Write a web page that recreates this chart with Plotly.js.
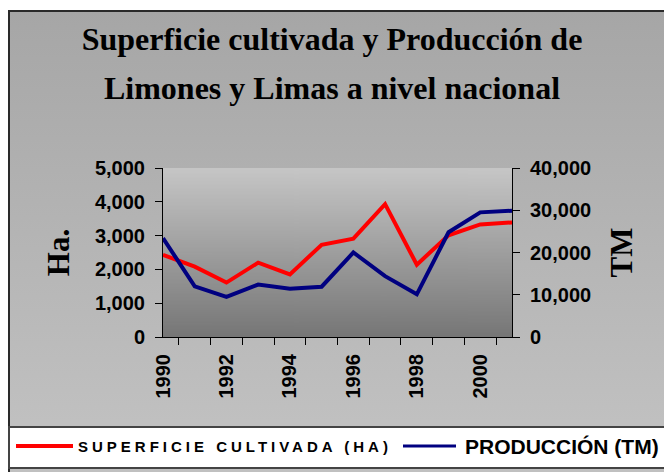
<!DOCTYPE html>
<html>
<head>
<meta charset="utf-8">
<script src="https://cdn.plot.ly/plotly-3.0.1.min.js"></script>
<style>
  html, body { margin: 0; padding: 0; background: #ffffff; }
  #frame {
    position: absolute; left: 8px; top: 10px; width: 680px; height: 480px;
    border-left: 2px solid #2a2a2a; border-top: 2px solid #2a2a2a;
    background: linear-gradient(to bottom, #a6a6a6 0px, #c0c0c0 410px, #c0c0c0 480px);
  }
  #chart { position: absolute; left: 0; top: 0; width: 664px; height: 472px; }
</style>
</head>
<body>
<div id="frame"></div>
<div id="chart"></div>
<script>
// ---- data ----
const years = ['1990','1991','1992','1993','1994','1995','1996','1997','1998','1999','2000','2001'];
const yearLabels = ['1990','','1992','','1994','','1996','','1998','','2000',''];
const superficieHa = [2430, 2080, 1610, 2200, 1850, 2730, 2910, 3930, 2140, 3010, 3330, 3390];
const produccionTM = [23400, 12000, 9500, 12400, 11400, 11900, 20000, 14400, 10100, 24800, 29500, 29900];
const seriesNames = ['SUPERFICIE CULTIVADA (HA)', 'PRODUCCIÓN (TM)'];
const leftTickVals = [0, 1000, 2000, 3000, 4000, 5000];
const rightTickVals = [0, 10000, 20000, 30000, 40000];

// plot-area gradient image
const cv = document.createElement('canvas');
cv.width = 4; cv.height = 256;
const ctx = cv.getContext('2d');
const g = ctx.createLinearGradient(0, 0, 0, 256);
g.addColorStop(0, '#c6c6c6');
g.addColorStop(1, '#767676');
ctx.fillStyle = g;
ctx.fillRect(0, 0, 4, 256);
const gradURL = cv.toDataURL('image/png');

const W = 664, H = 472;
const L = 163, R = 152, T = 168, B = 135;
const pw = W - L - R, ph = H - T - B;
const px = x => (x - L) / pw;
const py = y => (H - B - y) / ph;

const tickFont = {family: 'Liberation Sans, Arial, sans-serif', size: 20, color: '#000000', weight: 700};
const serifBold = {family: 'Liberation Serif, Times New Roman, serif', size: 31, color: '#000000', weight: 700};

const traces = [
  {x: years, y: superficieHa, name: seriesNames[0], type: 'scatter', mode: 'lines',
   line: {color: '#ff0000', width: 4}, yaxis: 'y', showlegend: false},
  {x: years, y: produccionTM, name: seriesNames[1], type: 'scatter', mode: 'lines',
   line: {color: '#000080', width: 4}, yaxis: 'y2', showlegend: false}
];

const layout = {
  width: W, height: H,
  margin: {l: L, r: R, t: T, b: B, pad: 0},
  paper_bgcolor: 'rgba(0,0,0,0)',
  plot_bgcolor: 'rgba(0,0,0,0)',
  showlegend: false,
  title: {
    text: '<span style="font-size:32px">Superficie cultivada y Producción de</span><br><span style="font-size:32px">Limones y Limas a nivel nacional</span>',
    font: {family: 'Liberation Serif, Times New Roman, serif', size: 38, color: '#000000', weight: 700},
    x: 0.5, xref: 'container', xanchor: 'center',
    y: 1 - 50 / H, yref: 'container', yanchor: 'top'
  },
  xaxis: {
    type: 'category',
    tickmode: 'array', tickvals: years, ticktext: yearLabels,
    tickson: 'boundaries',
    ticks: 'outside', ticklen: 7, tickcolor: '#000', tickwidth: 1,
    tickangle: -90, tickfont: tickFont, ticklabelstandoff: 8,
    showline: true, linecolor: '#000', linewidth: 1,
    showgrid: false, zeroline: false, fixedrange: true
  },
  yaxis: {
    range: [0, 5000], tickmode: 'array', tickvals: leftTickVals, tickformat: ',d',
    ticks: 'outside', ticklen: 7, tickcolor: '#000', tickfont: tickFont,
    ticklabelstandoff: 6,
    showline: true, linecolor: '#000', linewidth: 1,
    showgrid: false, zeroline: false,
    title: {text: 'Ha.', font: serifBold, standoff: 16}
  },
  yaxis2: {
    overlaying: 'y', side: 'right',
    range: [0, 40000], tickmode: 'array', tickvals: rightTickVals, tickformat: ',d',
    ticks: 'outside', ticklen: 7, tickcolor: '#000', tickfont: tickFont,
    ticklabelstandoff: 6,
    showline: true, linecolor: '#000', linewidth: 1,
    showgrid: false, zeroline: false,
    title: {text: 'TM', font: serifBold, standoff: 20}
  },
  images: [{
    source: gradURL, xref: 'paper', yref: 'paper', x: 0, y: 1, sizex: 1, sizey: 1,
    sizing: 'stretch', layer: 'below', xanchor: 'left', yanchor: 'top'
  }],
  shapes: [
    {type: 'rect', xref: 'paper', yref: 'paper', x0: px(9), x1: px(680), y0: py(468), y1: py(427),
     fillcolor: '#ffffff', line: {color: '#444444', width: 2}, layer: 'below'},
    {type: 'line', xref: 'paper', yref: 'paper', x0: px(16), x1: px(73), y0: py(446), y1: py(446),
     line: {color: '#ff0000', width: 4}},
    {type: 'line', xref: 'paper', yref: 'paper', x0: px(403), x1: px(456), y0: py(446), y1: py(446),
     line: {color: '#000080', width: 3}}
  ],
  annotations: [
    {xref: 'paper', yref: 'paper', x: px(76), y: py(446), xanchor: 'left', yanchor: 'middle',
     showarrow: false, text: '<span style="letter-spacing:4px">' + seriesNames[0] + '</span>',
     font: {family: 'Liberation Sans, Arial, sans-serif', size: 15, color: '#000', weight: 700}},
    {xref: 'paper', yref: 'paper', x: px(463), y: py(446), xanchor: 'left', yanchor: 'middle',
     showarrow: false, text: seriesNames[1],
     font: {family: 'Liberation Sans, Arial, sans-serif', size: 21, color: '#000', weight: 700}}
  ]
};

Plotly.newPlot('chart', traces, layout, {staticPlot: true, displayModeBar: false});
</script>
</body>
</html>
